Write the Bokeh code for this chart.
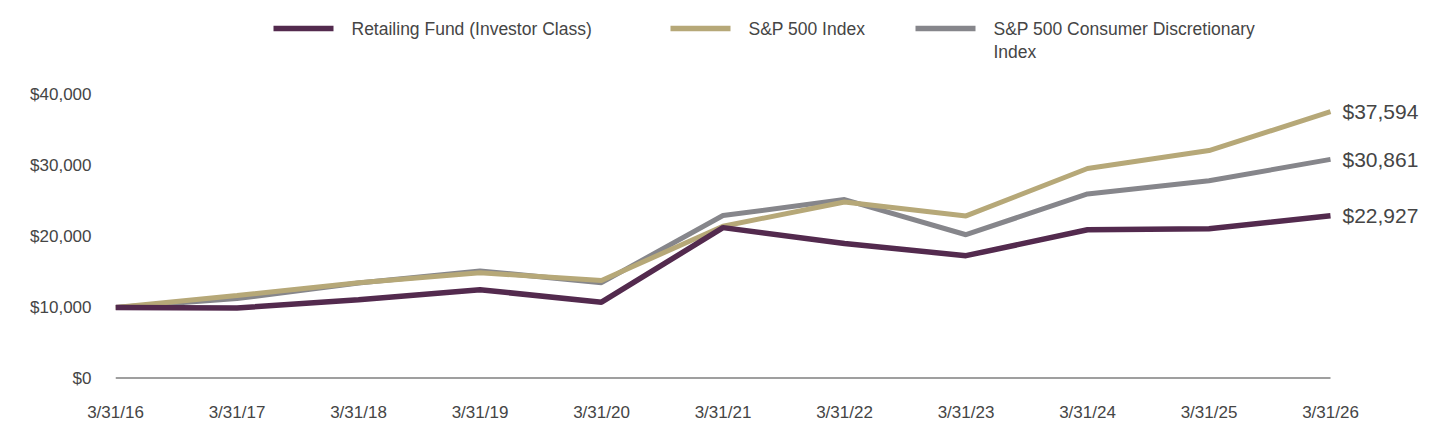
from bokeh.plotting import figure
from bokeh.layouts import column
from bokeh.models import Range1d, FixedTicker, NumeralTickFormatter
from bokeh.core.properties import value
from bokeh.embed import file_html
from bokeh.resources import INLINE

dates = ["3/31/16", "3/31/17", "3/31/18", "3/31/19", "3/31/20", "3/31/21",
         "3/31/22", "3/31/23", "3/31/24", "3/31/25", "3/31/26"]
fund = [10000, 9930, 11100, 12500, 10750, 21250, 19000, 17300, 20950, 21100, 22927]
sp500 = [10000, 11700, 13500, 14900, 13800, 21450, 24850, 22900, 29580, 32100, 37594]
cons_disc = [10000, 11250, 13450, 15150, 13500, 22950, 25200, 20250, 26000, 27850, 30861]
series_names = ["Retailing Fund (Investor Class)", "S&P 500 Index",
                "S&P 500 Consumer Discretionary Index"]
y_ticks = [0, 10000, 20000, 30000, 40000]

PURPLE = "#532A4E"
GOLD = "#B6A878"
GRAY = "#86868B"
TEXT = "#454545"
FONT = "Liberation Sans"

x = list(range(len(dates)))

W = 1440
LH = 80
BL, BR = 115, 10           # frame borders (shared by both figures)
STEP = 121.5               # px per period

# ---------- legend strip ----------
leg = figure(width=W, height=LH, output_backend="svg", toolbar_location=None,
             x_range=Range1d(BL, W - BR), y_range=Range1d(LH, 0),
             min_border_left=BL, min_border_right=BR, min_border_top=0,
             min_border_bottom=0, outline_line_color=None)
leg.axis.visible = False
leg.grid.visible = False
leg_x0 = [273, 670, 915]
leg_colors = [PURPLE, GOLD, GRAY]
leg_text = [series_names[0], series_names[1], "S&P 500 Consumer Discretionary\nIndex"]
for lx, c, t in zip(leg_x0, leg_colors, leg_text):
    leg.segment(x0=[lx], y0=[28], x1=[lx + 60], y1=[28], line_color=c, line_width=5.5)
    leg.text(x=[lx + 78], y=[18.5], text=[t], text_baseline="top", text_align="left",
             text_font=value(FONT), text_font_size="17.5px", text_color=TEXT,
             text_line_height=1.15)

# ---------- main chart ----------
x_end = (W - BL - BR) / STEP
p = figure(width=W, height=444 - LH, output_backend="svg", toolbar_location=None,
           x_range=Range1d(0, x_end), y_range=Range1d(0, 40000),
           min_border_left=BL, min_border_right=BR, min_border_top=14,
           min_border_bottom=66, outline_line_color=None)
p.grid.visible = False

# baseline (x axis line) spanning the dates only
p.segment(x0=[x[0]], y0=[0], x1=[x[-1]], y1=[0], line_color="#404040", line_width=2)

p.line(x, cons_disc, line_color=GRAY, line_width=5)
p.line(x, sp500, line_color=GOLD, line_width=5)
p.line(x, fund, line_color=PURPLE, line_width=5.5)

for ax in (p.xaxis, p.yaxis):
    ax.axis_line_color = None
    ax.major_tick_line_color = None
    ax.minor_tick_line_color = None
    ax.major_tick_out = 0
    ax.major_tick_in = 0
    ax.major_label_standoff = 24
    ax.major_label_text_font = FONT
    ax.major_label_text_font_size = "17px"
    ax.major_label_text_color = TEXT

p.yaxis.ticker = FixedTicker(ticks=y_ticks)
p.yaxis.formatter = NumeralTickFormatter(format="$0,0")
p.xaxis.ticker = FixedTicker(ticks=x)
p.xaxis.major_label_overrides = {i: d for i, d in zip(x, dates)}

last_vals = [sp500[-1], cons_disc[-1], fund[-1]]
p.text(x=[x[-1]] * 3, y=last_vals, text=[f"${v:,.0f}" for v in last_vals],
       x_offset=12, text_baseline="middle", text_align="left",
       text_font=value(FONT), text_font_size="21px", text_color=TEXT)

layout = column(leg, p, spacing=0)
open("out.html", "w").write(file_html(layout, INLINE))
